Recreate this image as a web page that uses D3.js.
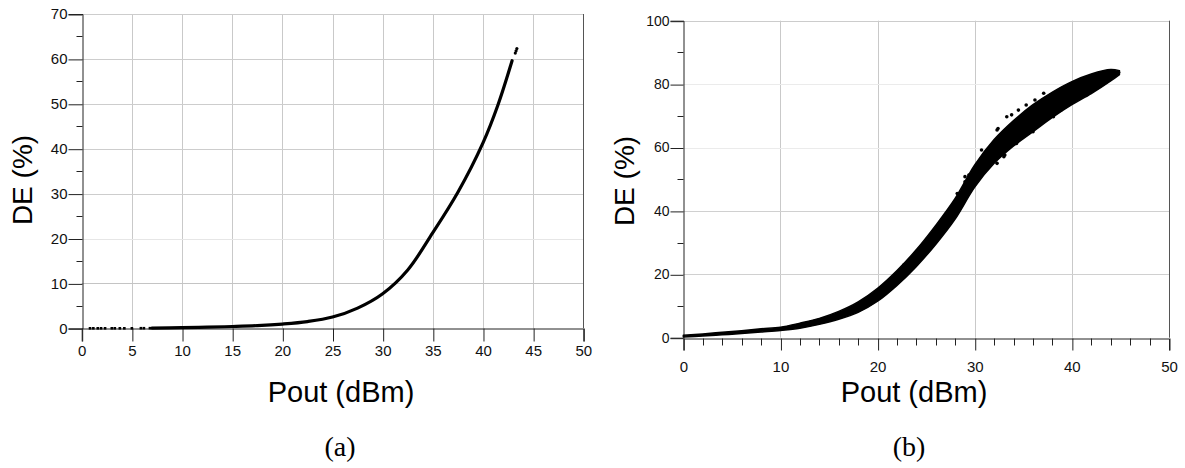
<!DOCTYPE html>
<html>
<head>
<meta charset="utf-8">
<script src="https://cdn.jsdelivr.net/npm/d3@7"></script>
<style>
  body { margin: 0; background: #fff; }
  svg { display: block; }
</style>
</head>
<body>
<div id="chart"></div>
<script>
// panel (a): smooth DE curve
var poutA = [7, 10, 12.5, 15, 17.5, 20, 22.5, 25, 27.5, 30, 32.5, 35, 37.5, 40, 41.5, 42.9];
var deA   = [0.05, 0.15, 0.25, 0.4, 0.6, 0.95, 1.5, 2.5, 4.5, 7.7, 13.0, 21.3, 30.3, 41.3, 49.8, 59.6];
// sparse points at low power
var lowPoutA = [0.83, 1.16, 1.6, 1.93, 2.33, 3.0, 3.3, 3.8, 4.25, 5.0, 5.9, 6.2, 6.8];
var lowDeA   = [0, 0, 0, 0, 0, 0, 0, 0, 0, 0, 0.02, 0.02, 0.03];
// the few points after the gap at the top
var tailPoutA = [43.22, 43.3, 43.38];
var tailDeA   = [61.3, 61.8, 62.3];

// panel (b): scatter band, lower and upper edge
var poutB   = [0, 2, 4, 6, 8, 10, 12, 14, 16, 18, 20, 22, 24, 26, 28, 30, 32, 34, 36, 38, 40, 42, 44, 44.9];
var deBLow  = [0.2, 0.5, 0.9, 1.3, 1.8, 2.3, 3.0, 4.2, 5.8, 8.0, 11.5, 16.5, 22.5, 29.5, 37.5, 47.5, 55.0, 60.5, 65.0, 69.5, 73.5, 77.0, 81.0, 83.0];
var deBHigh = [0.8, 1.2, 1.7, 2.2, 2.8, 3.3, 4.6, 6.1, 8.3, 11.3, 15.6, 21.2, 27.8, 35.5, 44.0, 54.5, 62.5, 68.5, 73.5, 77.5, 80.8, 83.2, 84.6, 84.2];
// stray points off the band
var strayPoutB = [19.1, 21.1, 22.7, 25.1, 26.1, 28.2, 29.0, 29.0, 29.4, 30.7, 32.3, 32.4, 33.0, 33.1, 33.3, 33.8, 34.3, 34.5,
                  35.3, 36.0, 36.2, 37.1, 38.1, 38.1, 38.9, 40.9, 40.9, 32.3, 44.8];
var strayDeB   = [12.9, 17.4, 22.9, 29.8, 33.8, 45.5, 50.8, 49.2, 51.3, 59.2, 65.5, 66.0, 57.1, 57.6, 69.7, 70.3, 61.3, 71.8,
                  73.4, 65.0, 75.0, 77.1, 69.7, 70.3, 71.8, 76.0, 76.6, 55.0, 83.7];

var xTicksA = [0, 5, 10, 15, 20, 25, 30, 35, 40, 45, 50];
var yTicksA = [0, 10, 20, 30, 40, 50, 60, 70];
var yMinorA = [5, 15, 25, 35, 45, 55, 65];
var xTicksB = [0, 10, 20, 30, 40, 50];
var xMinorB = [2, 4, 6, 8, 12, 14, 16, 18, 22, 24, 26, 28, 32, 34, 36, 38, 42, 44, 46, 48];
var yTicksB = [0, 20, 40, 60, 80, 100];
var yMinorB = [10, 30, 50, 70, 90];

var W = 1185, H = 468;
var svg = d3.select("#chart").append("svg")
    .attr("width", W)
    .attr("height", H);

var sans = "'Liberation Sans', Arial, sans-serif";

function panel(opt) {
  var x = d3.scaleLinear().domain([0, 50]).range([opt.left, opt.right]);
  var y = d3.scaleLinear().domain([0, opt.yMax]).range([opt.bottom, opt.top]);
  var g = svg.append("g");

  // grid
  g.selectAll(".vgrid").data(opt.xTicks.slice(1, -1)).enter().append("line")
      .attr("x1", d => Math.round(x(d)) + 0.5).attr("x2", d => Math.round(x(d)) + 0.5)
      .attr("y1", opt.top).attr("y2", opt.bottom)
      .attr("stroke", "#c9c9c9");
  g.selectAll(".hgrid").data(opt.yTicks.slice(1)).enter().append("line")
      .attr("x1", opt.left).attr("x2", opt.right)
      .attr("y1", d => Math.round(y(d)) + 0.5).attr("y2", d => Math.round(y(d)) + 0.5)
      .attr("stroke", d => opt.hColor(d));

  // right border
  g.append("line")
      .attr("x1", Math.round(opt.right) + 0.5).attr("x2", Math.round(opt.right) + 0.5)
      .attr("y1", opt.top).attr("y2", opt.bottom)
      .attr("stroke", "#555");

  // axes
  var ax = g.append("g")
      .attr("transform", "translate(0," + (Math.round(opt.bottom) + 0.5) + ")")
      .call(d3.axisBottom(x).tickValues(opt.xTicks).tickSize(opt.xTick).tickPadding(opt.xPad).tickFormat(d3.format("d")));
  var ay = g.append("g")
      .attr("transform", "translate(" + (Math.round(opt.left) + 0.5) + ",0)")
      .call(d3.axisLeft(y).tickValues(opt.yTicks).tickSize(opt.yTick).tickPadding(1).tickFormat(d3.format("d")));
  [ax, ay].forEach(function(a) {
    a.select(".domain").attr("stroke", "#222");
    a.selectAll(".tick line").attr("stroke", "#222");
    a.selectAll(".tick text").attr("fill", "#111").style("font-family", sans);
  });
  ax.selectAll(".tick text").style("font-size", opt.xFont + "px");
  ay.selectAll(".tick text").style("font-size", opt.yFont + "px");
  ay.selectAll(".tick line").attr("transform", "translate(0,0.5)");
  ax.selectAll(".tick line").attr("transform", "translate(0.5,0)");

  // minor ticks
  g.selectAll(".ym").data(opt.yMinor).enter().append("line")
      .attr("x1", Math.round(opt.left) + 0.5 - 6).attr("x2", Math.round(opt.left) + 0.5)
      .attr("y1", d => Math.round(y(d)) + 0.5).attr("y2", d => Math.round(y(d)) + 0.5)
      .attr("stroke", "#222");
  g.selectAll(".xm").data(opt.xMinor).enter().append("line")
      .attr("x1", d => Math.round(x(d)) + 0.5).attr("x2", d => Math.round(x(d)) + 0.5)
      .attr("y1", Math.round(opt.bottom) + 0.5).attr("y2", Math.round(opt.bottom) + 7.5)
      .attr("stroke", "#222");

  // titles
  g.append("text")
      .attr("x", opt.xTitleX).attr("y", 402)
      .attr("text-anchor", "middle")
      .style("font-family", sans).style("font-size", "29px")
      .text("Pout (dBm)");
  g.append("text")
      .attr("transform", "translate(" + opt.yTitleX + "," + opt.yTitleY + ") rotate(-90)")
      .attr("text-anchor", "middle")
      .style("font-family", sans).style("font-size", "28px")
      .text("DE (%)");
  g.append("text")
      .attr("x", opt.capX).attr("y", 456)
      .attr("text-anchor", "middle")
      .style("font-family", "'Liberation Serif', 'Times New Roman', serif").style("font-size", "28px")
      .text(opt.caption);

  return {x: x, y: y, g: g};
}

// ---- (a)
var pa = panel({
  left: 81.7, right: 583.3, top: 14, bottom: 328.3, yMax: 70,
  xTicks: xTicksA, yTicks: yTicksA, yMinor: yMinorA, xMinor: [],
  xTick: 13, yTick: 14, xPad: 4, xFont: 15, yFont: 15,
  hColor: d => d === 20 ? "#e6e6e6" : (d === 10 ? "#c4c4c4" : "#cdcdcd"),
  xTitleX: 341, yTitleX: 32, yTitleY: 180, capX: 340, caption: "(a)"
});

var curveA = poutA.map((p, i) => [p, deA[i]]);
pa.g.append("path")
    .datum(curveA)
    .attr("fill", "none")
    .attr("stroke", "#000")
    .attr("stroke-width", 3.2)
    .attr("stroke-linecap", "round")
    .attr("d", d3.line().x(d => pa.x(d[0])).y(d => pa.y(d[1])).curve(d3.curveCatmullRom));

pa.g.selectAll(".lowA").data(lowPoutA.map((p, i) => [p, lowDeA[i]])).enter().append("rect")
    .attr("x", d => pa.x(d[0]) - 1.3).attr("y", d => pa.y(d[1]) - 1.3)
    .attr("width", 2.6).attr("height", 2.6)
    .attr("fill", "#000");

pa.g.selectAll(".tailA").data(tailPoutA.map((p, i) => [p, tailDeA[i]])).enter().append("circle")
    .attr("cx", d => pa.x(d[0])).attr("cy", d => pa.y(d[1]))
    .attr("r", 1.6)
    .attr("fill", "#000");

// ---- (b)
var pb = panel({
  left: 683.3, right: 1169, top: 20.7, bottom: 337.7, yMax: 100,
  xTicks: xTicksB, yTicks: yTicksB, yMinor: yMinorB, xMinor: xMinorB,
  xTick: 12, yTick: 13, xPad: 11, xFont: 15, yFont: 14,
  hColor: d => (d === 60 || d === 80) ? "#ebebeb" : (d === 100 ? "#cccccc" : "#d0d0d0"),
  xTitleX: 914, yTitleX: 633.5, yTitleY: 181, capX: 909, caption: "(b)"
});

var bandB = poutB.map((p, i) => ({p: p, lo: deBLow[i], hi: deBHigh[i]}));
pb.g.append("path")
    .datum(bandB)
    .attr("fill", "#000")
    .attr("stroke", "#000")
    .attr("stroke-width", 1.5)
    .attr("stroke-linejoin", "round")
    .attr("d", d3.area()
      .x(d => pb.x(d.p))
      .y0(d => pb.y(d.lo))
      .y1(d => pb.y(d.hi))
      .curve(d3.curveCatmullRom));

pb.g.selectAll(".strayB").data(strayPoutB.map((p, i) => [p, strayDeB[i]])).enter().append("circle")
    .attr("cx", d => pb.x(d[0])).attr("cy", d => pb.y(d[1]))
    .attr("r", 1.8)
    .attr("fill", "#000");
</script>
</body>
</html>
